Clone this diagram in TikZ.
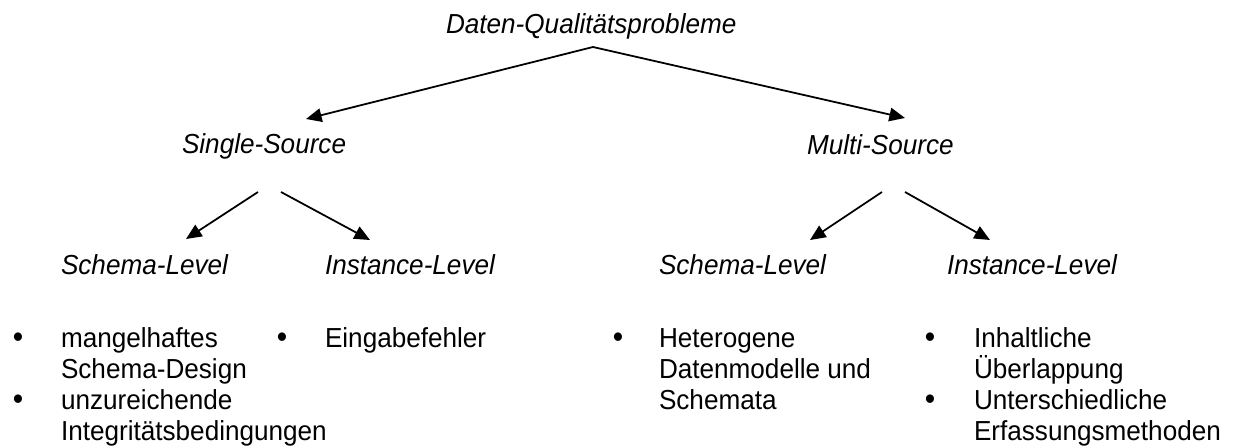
\documentclass[tikz,border=0pt]{standalone}
\usepackage{fontspec}
\setmainfont{Liberation Sans}[FakeStretch=0.95]
\usetikzlibrary{arrows.meta}
\begin{document}
\begin{tikzpicture}[x=0.48pt,y=-0.48pt,
  every node/.style={inner sep=0pt, outer sep=0pt,
    font=\fontsize{13.2pt}{14.9pt}\selectfont},
  head/.style={anchor=base west,
    font=\fontsize{13.2pt}{14.9pt}\selectfont\itshape},
  entry/.style={anchor=base west},
  dot/.style={anchor=base, font=\fontsize{15pt}{15pt}\selectfont},
  link/.style={line width=0.85pt, -{Triangle[length=7.5pt,width=6.5pt]}}]
\useasboundingbox (0,0) rectangle (1236,446);

% headings of the tree
\node[head] (top) at (446,33)  {Daten-Qualitätsprobleme};
\node[head] (ss)  at (182,153) {Single-Source};
\node[head] (ms)  at (807,154) {Multi-Source};
\node[head] (ssl) at (61,274)  {Schema-Level};
\node[head] (sil) at (325,274) {Instance-Level};
\node[head] (msl) at (659,274) {Schema-Level};
\node[head] (mil) at (947,274) {Instance-Level};

% connector end points
\coordinate (apex)  at (593,47);
\coordinate (ssin)  at (306,119);
\coordinate (msin)  at (905,118);
\coordinate (ssa)   at (258,192);
\coordinate (ssb)   at (281,192);
\coordinate (msa)   at (882,192);
\coordinate (msb)   at (905,192);
\coordinate (sslin) at (186,239);
\coordinate (silin) at (370,240);
\coordinate (mslin) at (810,240);
\coordinate (milin) at (990,240);

\draw[link] (apex) -- (ssin);
\draw[link] (apex) -- (msin);
\draw[link] (ssa) -- (sslin);
\draw[link] (ssb) -- (silin);
\draw[link] (msa) -- (mslin);
\draw[link] (msb) -- (milin);

% bullet lists
\node[dot] (b1) at (18,347)  {•};
\node[entry] (i1) at (61,347) {\parbox[t]{140pt}{\raggedright mangelhaftes\\Schema-Design}};
\node[dot] (b2) at (18,409)  {•};
\node[entry] (i2) at (61,409) {\parbox[t]{140pt}{\raggedright unzureichende\\Integritätsbedingungen}};
\node[dot] (b3) at (282,347) {•};
\node[entry] (i3) at (325,347) {Eingabefehler};
\node[dot] (b4) at (618,347) {•};
\node[entry] (i4) at (659,347) {\parbox[t]{140pt}{\raggedright Heterogene\\Datenmodelle und\\Schemata}};
\node[dot] (b5) at (930,347) {•};
\node[entry] (i5) at (974,347) {\parbox[t]{140pt}{\raggedright Inhaltliche\\Überlappung}};
\node[dot] (b6) at (930,409) {•};
\node[entry] (i6) at (974,409) {\parbox[t]{140pt}{\raggedright Unterschiedliche\\Erfassungsmethoden}};
\end{tikzpicture}
\end{document}
